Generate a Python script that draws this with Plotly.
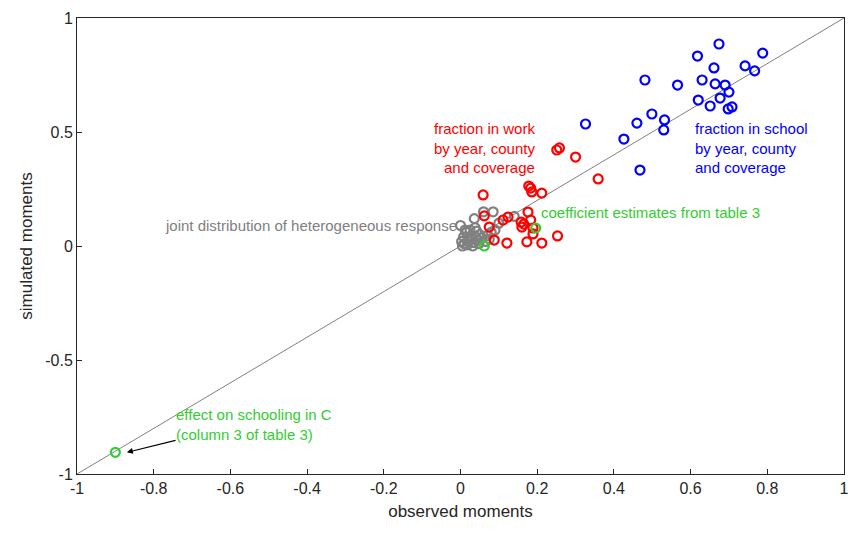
import plotly.graph_objects as go

school_x = [0.674,0.618,0.788,0.742,0.767,0.661,0.481,0.566,0.630,0.664,0.690,0.700,0.620,0.677,0.651,0.698,0.708,0.326,0.460,0.499,0.532,0.530,0.426,0.468]
school_y = [0.886,0.833,0.846,0.790,0.768,0.781,0.728,0.706,0.728,0.711,0.706,0.675,0.640,0.649,0.614,0.601,0.610,0.535,0.539,0.579,0.553,0.509,0.469,0.333]
work_x = [0.251,0.258,0.300,0.359,0.059,0.178,0.183,0.186,0.212,0.176,0.062,0.111,0.124,0.158,0.165,0.183,0.160,0.189,0.189,0.253,0.173,0.212,0.121,0.088,0.075]
work_y = [0.421,0.430,0.390,0.294,0.224,0.263,0.254,0.237,0.232,0.149,0.132,0.114,0.127,0.105,0.096,0.114,0.083,0.079,0.053,0.044,0.018,0.013,0.013,0.026,0.083]
coef_x = [0.196,0.062,-0.900]
coef_y = [0.079,0.000,-0.905]
het_x = [0.060,0.085,0.036,0.140,0.000,0.010,0.020,0.030,0.040,0.050,0.005,0.015,0.025,0.035,0.045,0.055,0.070,0.080,0.008,0.018,0.028,0.038,0.048,0.012,0.022,0.032,0.042,0.065,0.075,0.003,0.090,0.100]
het_y = [0.150,0.150,0.120,0.130,0.090,0.010,0.020,0.030,0.040,0.050,0.000,0.060,0.070,0.015,0.025,0.035,0.045,0.060,0.040,0.005,0.045,0.080,0.010,0.070,0.030,0.000,0.065,0.020,0.030,0.020,0.070,0.100]

fig = go.Figure()
fig.add_trace(go.Scatter(x=[-1,1], y=[-1,1], mode="lines", line=dict(color="#808080", width=1)))
def add(x, y, c):
    fig.add_trace(go.Scatter(x=x, y=y, mode="markers",
        marker=dict(symbol="circle-open", size=9, color=c, line=dict(width=2.2, color=c))))
add(het_x, het_y, "#808080")
add(work_x, work_y, "#ff0000")
add(school_x, school_y, "#0000ff")
add(coef_x, coef_y, "#33cc33")

def txt(x, y, s, c, anchor):
    fig.add_annotation(x=x, y=y, text=s, showarrow=False, font=dict(color=c, size=15),
                       xanchor=anchor, align=anchor, yanchor="middle")
txt(0.20, 0.43, "fraction in work<br>by year, county<br>and coverage", "#ff0000", "right")
txt(0.605, 0.43, "fraction in school<br>by year, county<br>and coverage", "#0000ff", "left")
txt(-0.003, 0.09, "joint distribution of heterogeneous response", "#808080", "right")
txt(0.205, 0.148, "coefficient estimates from table 3", "#33cc33", "left")
txt(-0.748, -0.785, "effect on schooling in C<br>(column 3 of table 3)", "#33cc33", "left")
fig.add_annotation(x=-0.87, y=-0.905, ax=-0.739, ay=-0.851, xref="x", yref="y", axref="x", ayref="y",
                   showarrow=True, arrowhead=2, arrowsize=1, arrowwidth=1.2, arrowcolor="black", text="")

ax = dict(range=[-1,1], showgrid=False, zeroline=False, showline=True, mirror=True, automargin=False,
          linecolor="#262626", linewidth=1, ticks="inside", ticklen=5, tickcolor="#262626",
          tickfont=dict(size=16, color="#262626"), title_font=dict(size=17, color="#262626"))
fig.update_xaxes(**ax, tickvals=[-1,-0.8,-0.6,-0.4,-0.2,0,0.2,0.4,0.6,0.8,1],
                 ticktext=["-1","-0.8","-0.6","-0.4","-0.2","0","0.2","0.4","0.6","0.8","1"], title_text="observed moments", title_standoff=8)
fig.update_yaxes(**ax, tickvals=[-1,-0.5,0,0.5,1], ticktext=["-1","-0.5","0","0.5","1"], title_text="simulated moments", title_standoff=8)
fig.update_layout(width=846, height=519, margin=dict(l=69, r=10, t=10, b=53), showlegend=False,
                  plot_bgcolor="white", paper_bgcolor="white", font=dict(family="Liberation Sans"))
fig.write_html("out.html")
